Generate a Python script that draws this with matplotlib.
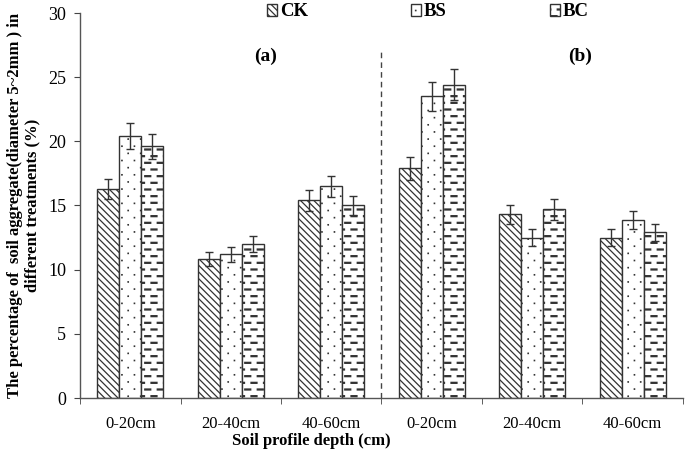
import warnings

import numpy as np
import matplotlib
import matplotlib.pyplot as plt
import matplotlib.hatch as mhatch
from matplotlib.path import Path
matplotlib.use('Agg')
warnings.filterwarnings("ignore")

# data
depths = ["0-20cm", "20-40cm", "40-60cm", "0-20cm", "20-40cm", "40-60cm"]
treatments = ["CK", "BS", "BC"]
ck = [16.3, 10.8, 15.4, 17.9, 14.3, 12.5]
bs = [20.4, 11.2, 16.5, 23.5, 12.5, 13.9]
bc = [19.6, 12.0, 15.0, 24.4, 14.7, 12.9]
ck_err = [0.8, 0.55, 0.8, 0.9, 0.75, 0.65]
bs_err = [1.0, 0.6, 0.8, 1.1, 0.65, 0.7]
bc_err = [1.0, 0.6, 0.75, 1.2, 0.8, 0.65]
panel_labels = ["(a)", "(b)"]


def _box(vertices, codes, k, x0, y0, w, h):
    # one small closed rectangle (hatch paths get filled and stroked)
    vertices[k:k + 5] = [[x0, y0], [x0 + w, y0], [x0 + w, y0 + h], [x0, y0 + h], [x0, y0]]
    codes[k] = Path.MOVETO
    codes[k + 1:k + 4] = Path.LINETO
    codes[k + 4] = Path.CLOSEPOLY
    return k + 5


class DashRowHatch(mhatch.HatchPatternBase):
    """Staggered rows of short thick dashes ('_' in the hatch string)."""

    def __init__(self, hatch, density):
        self.num_rows = hatch.count('_') * 15
        self.num_cols = 8
        self.num_vertices = self.num_rows * self.num_cols * 5

    def set_vertices_and_codes(self, vertices, codes):
        k = 0
        for i in range(self.num_rows):
            y = (i + 0.5) / self.num_rows
            off = 0.5 / self.num_cols if i % 2 else 0.0
            for j in range(self.num_cols):
                k = _box(vertices, codes, k, j / self.num_cols + off + 0.01, y, 0.06, 0.01)


class TinyDotHatch(mhatch.HatchPatternBase):
    """Sparse staggered tiny dots (':' in the hatch string)."""

    def __init__(self, hatch, density):
        self.num_rows = hatch.count(':') * 14
        self.num_cols = 8
        self.num_vertices = self.num_rows * self.num_cols * 5

    def set_vertices_and_codes(self, vertices, codes):
        k = 0
        for i in range(self.num_rows):
            y = (i + 0.5) / self.num_rows
            off = 0.5 / self.num_cols if i % 2 else 0.0
            for j in range(self.num_cols):
                k = _box(vertices, codes, k, j / self.num_cols + off + 0.03, y, 0.004, 0.004)


mhatch._hatch_types.append(DashRowHatch)
mhatch._hatch_types.append(TinyDotHatch)

plt.rcParams['font.family'] = ['Liberation Serif', 'DejaVu Serif']
plt.rcParams['hatch.linewidth'] = 0.9
plt.rcParams['hatch.color'] = '#222222'

fig = plt.figure(figsize=(6.85, 4.61), dpi=100)
ax = fig.add_axes([80 / 685, 1 - 398 / 461, 603 / 685, 385 / 461])

x = np.arange(len(depths))
w = 0.22
edge = '#333333'
series = [(ck, ck_err, '\\\\\\\\\\'), (bs, bs_err, ':'), (bc, bc_err, '_')]
for k, (vals, errs, hatch) in enumerate(series):
    ax.bar(x + (k - 1) * w, vals, w, yerr=errs, color='white', edgecolor=edge,
           linewidth=1.0, hatch=hatch, label=treatments[k],
           error_kw=dict(ecolor='#333333', elinewidth=1.0, capsize=3, capthick=1.0))

# separator between the two panels
ax.plot([2.5, 2.5], [0, 27.3], color='#444444', lw=1.0, ls=(0, (4, 3)))
ax.text(1.35, 26.6, panel_labels[0], ha='center', va='center', fontsize=14, fontweight='bold')
ax.text(4.48, 26.6, panel_labels[1], ha='center', va='center', fontsize=14, fontweight='bold')

ax.set_xlim(-0.5, 5.5)
ax.set_ylim(0, 30)
ax.set_yticks(range(0, 31, 5))
ax.set_xticks(x)
ax.set_xticklabels(depths, fontsize=12)
ax.set_xticks(np.arange(-0.5, 6.0, 1.0), minor=True)
ax.tick_params(axis='x', which='major', length=0, pad=13)
ax.tick_params(axis='x', which='minor', length=4, direction='out', color='#444444')
ax.tick_params(axis='y', labelsize=13, length=4, pad=6, color='#444444')
for s in ['top', 'right']:
    ax.spines[s].set_visible(False)
for s in ['left', 'bottom']:
    ax.spines[s].set_color('#555555')
    ax.spines[s].set_linewidth(1.0)

ax.set_xlabel("Soil profile depth (cm)", fontsize=12, fontweight='bold')
ax.xaxis.set_label_coords(0.383, -0.092)
ax.set_ylabel("The percentage of  soil aggregate(diameter 5~2mm ) in\ndifferent treatments (%)",
              fontsize=12, fontweight='bold', linespacing=1.1)
ax.yaxis.set_label_coords(-0.066, 0.5)

fig.legend(loc='center', bbox_to_anchor=(428 / 685, 1 - 12 / 461), ncol=3, frameon=False,
           prop=dict(weight='bold', size=13.5), handlelength=0.55, handleheight=0.55,
           handletextpad=0.15, columnspacing=5.5, borderpad=0)

fig.savefig("out.png", dpi=100)
